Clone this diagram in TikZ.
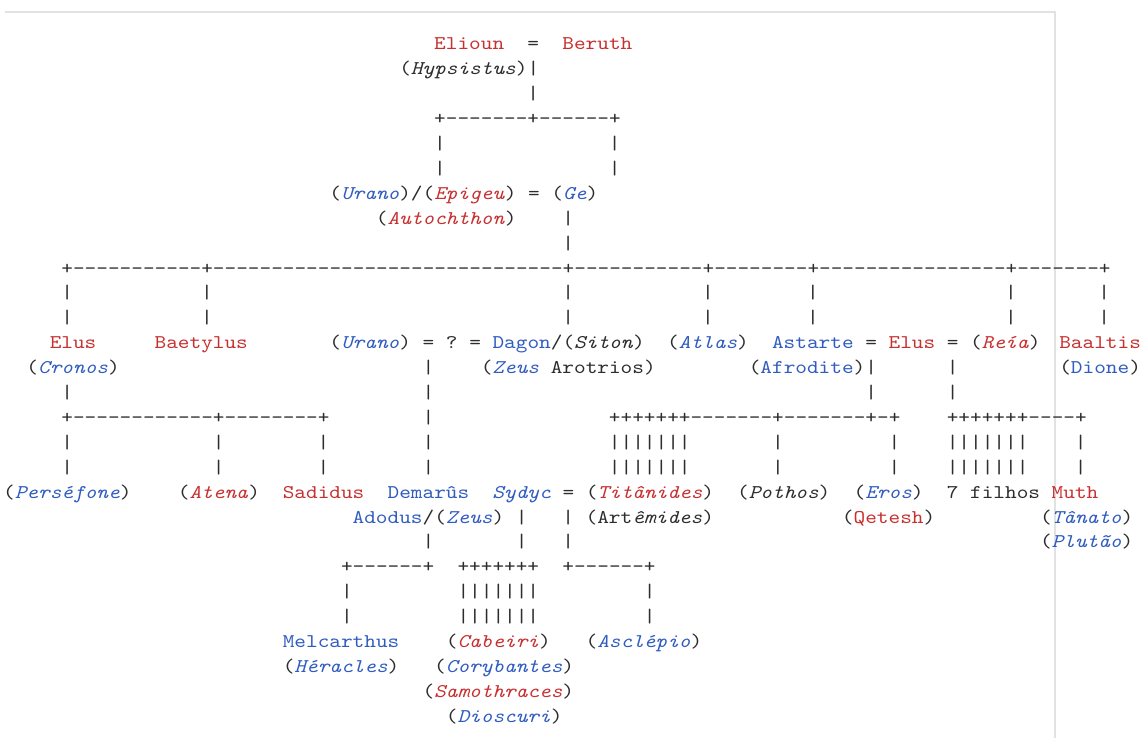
\documentclass[tikz,border=0pt]{standalone}
\usepackage{fontspec}
\setmonofont{lmmono10-regular.otf}[ItalicFont=lmmono10-italic.otf, FakeStretch=1.144]
\ExplSyntaxOn
\NewDocumentCommand\rep{mm}{\prg_replicate:nn{#1}{#2}}
\ExplSyntaxOff
\definecolor{tred}{RGB}{200,48,48}
\definecolor{tblue}{RGB}{48,92,192}
\definecolor{tdark}{RGB}{45,45,45}
\definecolor{frame}{RGB}{226,226,226}
\newcommand\rd[1]{\textcolor{tred}{#1}}
\newcommand\bl[1]{\textcolor{tblue}{#1}}
\newcommand\cell[4]{\node[txt] (#1) at ({3.175+11.65*#2},{688-24.9*#3}) {#4};}
\tikzset{txt/.style={anchor=base west, inner sep=0pt, outer sep=0pt, text=tdark,
  font=\ttfamily\fontsize{19.41pt}{24.9pt}\selectfont\frenchspacing}}
\begin{document}
\begin{tikzpicture}[x=1pt,y=1pt]
\useasboundingbox (0,0) rectangle (1140,738);
\fill[white] (0,0) rectangle (1140,738);
\draw[frame, line width=1.2pt] (5,726) -- (1055,726) -- (1055,0);
% row 0-8
\cell{a0}{37}{0}{\rd{Elioun}}
\cell{a1}{45}{0}{=}
\cell{a2}{48}{0}{\rd{Beruth}}
\cell{b0}{34}{1}{(\textit{Hypsistus})|}
\cell{c0}{45}{2}{|}
\cell{d0}{37}{3}{+\rep{7}{-}+\rep{6}{-}+}
\cell{e0}{37}{4}{|}
\cell{e1}{52}{4}{|}
\cell{f0}{37}{5}{|}
\cell{f1}{52}{5}{|}
\cell{g0}{28}{6}{(\bl{\textit{Urano}})/(\rd{\textit{Epigeu}}) = (\bl{\textit{Ge}})}
\cell{h0}{32}{7}{(\rd{\textit{Autochthon}})}
\cell{h1}{48}{7}{|}
\cell{i0}{48}{8}{|}
% row 9
\cell{j0}{5}{9}{+\rep{11}{-}+\rep{30}{-}+\rep{11}{-}+\rep{8}{-}+\rep{16}{-}+\rep{7}{-}+}
\foreach \c [count=\k] in {5,17,48,60,69,86,94}{
  \cell{k\k}{\c}{10}{|}
  \cell{l\k}{\c}{11}{|}
}
% row 12
\cell{m0}{4}{12}{\rd{Elus}}
\cell{m1}{13}{12}{\rd{Baetylus}}
\cell{m2}{28}{12}{(\bl{\textit{Urano}}) = ? = \bl{Dagon}/(\textit{Siton})}
\cell{m3}{57}{12}{(\bl{\textit{Atlas}})}
\cell{m4}{66}{12}{\bl{Astarte} = \rd{Elus} = (\rd{\textit{Reía}})}
\node[txt] (m5) at ({3.175+11.65*91-4},{688-24.9*12}) {\rd{Baaltis}};
% row 13
\cell{n0}{2}{13}{(\bl{\textit{Cronos}})}
\cell{n1}{36}{13}{|}
\cell{n2}{41}{13}{(\bl{\textit{Zeus}} Arotrios)}
\cell{n3}{64}{13}{(\bl{Afrodite})|}
\cell{n4}{81}{13}{|}
\node[txt] (n5) at ({3.175+11.65*91-4},{688-24.9*13}) {(\bl{Dione})};
% row 14
\foreach \c [count=\k] in {5,36,74,81}{\cell{o\k}{\c}{14}{|}}
% row 15
\cell{p0}{5}{15}{+\rep{12}{-}+\rep{8}{-}+}
\cell{p1}{36}{15}{|}
\cell{p2}{52}{15}{\rep{7}{+}\rep{7}{-}+\rep{7}{-}+-+}
\cell{p3}{81}{15}{\rep{7}{+}\rep{4}{-}+}
% rows 16-17
\foreach \r in {16,17}{
  \foreach \c [count=\k] in {5,18,27,36,66,76,92}{\cell{q\r-\k}{\c}{\r}{|}}
  \cell{qa\r}{52}{\r}{|||||||}
  \cell{qb\r}{81}{\r}{|||||||}
}
% row 18
\cell{s0}{0}{18}{(\bl{\textit{Perséfone}})}
\cell{s1}{15}{18}{(\rd{\textit{Atena}})}
\cell{s2}{24}{18}{\rd{Sadidus}}
\cell{s3}{33}{18}{\bl{Demarûs}}
\cell{s4}{42}{18}{\bl{\textit{Sydyc}} = (\rd{\textit{Titânides}})}
\cell{s5}{63}{18}{(\textit{Pothos})}
\cell{s6}{73}{18}{(\bl{\textit{Eros}})}
\cell{s7}{81}{18}{7 filhos}
\cell{s8}{90}{18}{\rd{Muth}}
% row 19
\cell{t0}{30}{19}{\bl{Adodus}/(\bl{\textit{Zeus}})}
\cell{t1}{44}{19}{|}
\cell{t2}{48}{19}{|}
\cell{t3}{50}{19}{(Art\textit{êmides})}
\cell{t4}{72}{19}{(\rd{Qetesh})}
\cell{t5}{89}{19}{(\bl{\textit{Tânato}})}
% row 20
\cell{u0}{36}{20}{|}
\cell{u1}{44}{20}{|}
\cell{u2}{48}{20}{|}
\cell{u3}{89}{20}{(\bl{\textit{Plutão}})}
% row 21
\cell{v0}{29}{21}{+\rep{6}{-}+}
\cell{v1}{39}{21}{\rep{7}{+}}
\cell{v2}{48}{21}{+\rep{6}{-}+}
% rows 22-23
\foreach \r in {22,23}{
  \cell{w\r a}{29}{\r}{|}
  \cell{w\r b}{39}{\r}{|||||||}
  \cell{w\r c}{55}{\r}{|}
}
% rows 24-27
\cell{x0}{24}{24}{\bl{Melcarthus}}
\cell{x1}{38}{24}{(\rd{\textit{Cabeiri}})}
\cell{x2}{50}{24}{(\bl{\textit{Asclépio}})}
\cell{y0}{24}{25}{(\bl{\textit{Héracles}})}
\cell{y1}{37}{25}{(\bl{\textit{Corybantes}})}
\cell{z0}{36}{26}{(\rd{\textit{Samothraces}})}
\cell{z1}{38}{27}{(\bl{\textit{Dioscuri}})}
\end{tikzpicture}
\end{document}
